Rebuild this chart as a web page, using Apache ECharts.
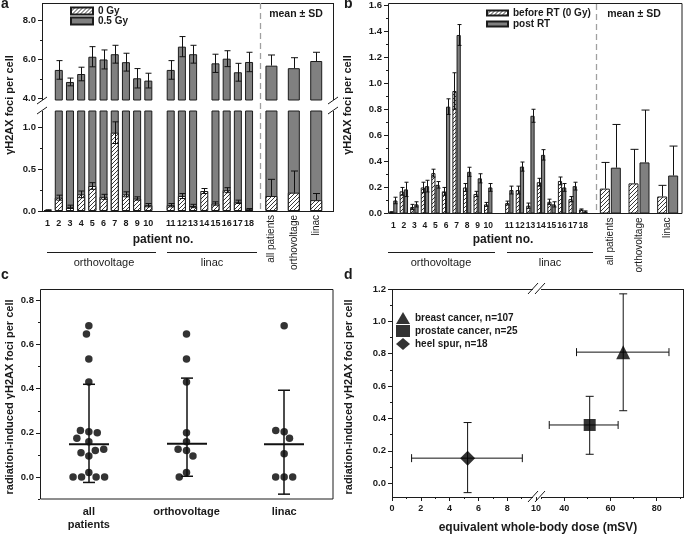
<!DOCTYPE html>
<html><head><meta charset="utf-8">
<script src="https://cdn.jsdelivr.net/npm/echarts@6/dist/echarts.min.js"></script>
<style>html,body{margin:0;padding:0;background:#fff}#c{width:685px;height:534px}</style>
</head><body><div id="c"></div>
<script>
// ================= DATA =================
const orthoPatients = ['1','2','3','4','5','6','7','8','9','10'];
const linacPatients = ['11','12','13','14','15','16','17','18'];
const groupNames = ['all patients','orthovoltage','linac'];

// panel a : foci per cell, 0 Gy and 0.5 Gy (in vitro), patients 1..18
const a0Gy     = [0.01,0.16,0.05,0.20,0.30,0.17,0.94,0.20,0.15,0.07, 0.07,0.18,0.06,0.24,0.09,0.25,0.11,0.02];
const a0GySd   = [0.005,0.03,0.02,0.04,0.04,0.03,0.13,0.03,0.02,0.02, 0.02,0.03,0.02,0.03,0.02,0.03,0.02,0.01];
const a05Gy    = [null,5.46,4.84,5.25,6.14,6.00,6.27,5.86,5.03,4.91, 5.46,6.66,6.27,null,5.80,6.04,5.34,5.87];
const a05GySd  = [null,0.48,0.20,0.35,0.52,0.49,0.46,0.46,0.50,0.38, 0.48,0.52,0.46,null,0.47,0.41,0.46,0.50];
const aMean0Gy    = [0.18,0.22,0.13];
const aMean0GySd  = [0.20,0.26,0.08];
const aMean05Gy   = [5.68,5.55,5.92];
const aMean05GySd = [0.55,0.54,0.45];

// panel b : before RT and post RT
const bPre     = [0.01,0.17,0.05,0.20,0.31,0.17,0.94,0.20,0.15,0.07, 0.08,0.18,0.06,0.24,0.09,0.25,0.11,0.03];
const bPreSd   = [0.004,0.03,0.02,0.04,0.03,0.03,0.14,0.03,0.02,0.015, 0.015,0.03,0.02,0.03,0.02,0.03,0.02,0.005];
const bPost    = [0.10,0.185,0.07,0.21,0.22,0.82,1.37,0.32,0.27,0.20, 0.18,0.36,0.75,0.45,0.07,0.20,0.21,0.015];
const bPostSd  = [0.025,0.055,0.02,0.045,0.025,0.06,0.08,0.035,0.035,0.03, 0.03,0.035,0.05,0.04,0.02,0.03,0.03,0.005];
const bMeanPre    = [0.19,0.23,0.13];
const bMeanPreSd  = [0.20,0.26,0.085];
const bMeanPost   = [0.35,0.39,0.29];
const bMeanPostSd = [0.33,0.40,0.225];

// panel c : radiation-induced foci per patient
const cAll   = [0.685,0.648,0.535,0.43,0.205,0.21,0.20,0.16,0.175,0.095,0.11,0.12,0.125,0.02,0,0,0,0];
const cOrtho = [0.648,0.535,0.43,0.20,0.16,0.12,0.125,0.095,0.02,0];
const cLinac = [0.685,0.205,0.21,0.175,0.105,0,0,0];
const cCenter = [0.148,0.150,0.148];
const cLow    = [-0.025,0.003,-0.078];
const cHigh   = [0.420,0.448,0.393];

// panel d
const dGroups   = ['breast cancer, n=107','prostate cancer, n=25','heel spur, n=18'];
const dDose     = [65.5, 51.0, 5.25];
const dDoseLow  = [45.3, 33.5, 1.36];
const dDoseHigh = [85.3, 63.3, 9.05];
const dFoci     = [0.81, 0.36, 0.155];
const dFociLow  = [0.448, 0.179, -0.058];
const dFociHigh = [1.17, 0.537, 0.375];

// tick labels
const aUpperTicks = [4,6,8], aUpperMinor = [5,7];
const aLowerTicks = [0,0.5,1.0], aLowerMinor = [0.25,0.75];
const bTicks = [0,0.2,0.4,0.6,0.8,1.0,1.2,1.4,1.6], bMinor = [0.1,0.3,0.5,0.7,0.9,1.1,1.3,1.5];
const cTicks = [0,0.2,0.4,0.6,0.8], cMinor = [-0.1,0.1,0.3,0.5,0.7];
const dYTicks = [0,0.2,0.4,0.6,0.8,1.0,1.2], dYMinor = [0.1,0.3,0.5,0.7,0.9,1.1];
const dXLeftTicks = [0,2,4,6,8,10], dXLeftMinor = [1,3,5,7,9];
const dXRightTicks = [40,60,80], dXRightMinor = [30,50,70,90];

// ================= STYLE =================
const EDGE = '#1c1c1c', GRAY = '#808080', TXT = '#1a1a1a', DASH = '#a0a0a0';
const FONT = '"Liberation Sans", Arial, Helvetica, sans-serif';

function makeHatch() {
  const s = 4;
  const c = document.createElement('canvas'); c.width = s; c.height = s;
  const g = c.getContext('2d');
  g.fillStyle = '#fff'; g.fillRect(0, 0, s, s);
  g.strokeStyle = '#222'; g.lineWidth = 0.9;
  g.beginPath();
  g.moveTo(0, s); g.lineTo(s, 0);
  g.moveTo(-1, 1); g.lineTo(1, -1);
  g.moveTo(s - 1, s + 1); g.lineTo(s + 1, s - 1);
  g.stroke();
  return c;
}
const HATCH = { image: makeHatch(), repeat: 'repeat' };
const grayStyle = { color: GRAY, borderColor: EDGE, borderWidth: 1 };
const hatchStyle = { color: HATCH, borderColor: EDGE, borderWidth: 1 };

// ================= SLOTS =================
const allPatients = orthoPatients.concat(linacPatients);
const aSlots = [...orthoPatients, 'gapA1', ...linacPatients, 'gapA2', groupNames[0], 'gapA3', groupNames[1], 'gapA4', groupNames[2], 'gapA5'];
const bSlots = [...orthoPatients, 'gapB1', ...linacPatients, 'gapB2'];

function toSlots(slots, names, values) {
  const out = new Array(slots.length).fill(null);
  names.forEach((n, i) => { out[slots.indexOf(n)] = values[i]; });
  return out;
}
function errData(slots, names, values, sds, upOnly) {
  const out = [];
  names.forEach((n, i) => {
    if (values[i] == null) return;
    const idx = slots.indexOf(n);
    out.push([idx, upOnly ? values[i] : values[i] - sds[i], values[i] + sds[i]]);
  });
  return out;
}
function vErr(offset, cap, upOnly) {
  return function (params, api) {
    const x = api.value(0), lo = api.value(1), hi = api.value(2);
    const ph = api.coord([x, hi]), pl = api.coord([x, lo]);
    const cx = Math.round(ph[0] + offset) + 0.5;
    const st = { stroke: '#111', lineWidth: 1 };
    const ch = [
      { type: 'line', shape: { x1: cx, y1: pl[1], x2: cx, y2: ph[1] }, style: st },
      { type: 'line', shape: { x1: cx - cap / 2, y1: ph[1], x2: cx + cap / 2, y2: ph[1] }, style: st }
    ];
    if (!upOnly) ch.push({ type: 'line', shape: { x1: cx - cap / 2, y1: pl[1], x2: cx + cap / 2, y2: pl[1] }, style: st });
    return { type: 'group', children: ch };
  };
}
function errSeries(xi, yi, data, offset, cap, upOnly) {
  return { type: 'custom', xAxisIndex: xi, yAxisIndex: yi, z: 4, silent: true, data,
    encode: { x: 0, y: [1, 2] }, renderItem: vErr(offset, cap, upOnly) };
}

// ================= AXES =================
function catAxis(gridIndex, data, label) {
  return { gridIndex, type: 'category', data, position: 'bottom', boundaryGap: true,
    axisLine: { show: false, onZero: false }, axisTick: { show: false }, splitLine: { show: false },
    axisLabel: label ? Object.assign({ show: true, interval: 0, color: TXT, fontFamily: FONT }, label) : { show: false } };
}
function valAxis(gridIndex, min, max, ticks, position, fmt) {
  return { gridIndex, type: 'value', min, max, position,
    axisLine: { show: false, onZero: false }, splitLine: { show: false },
    axisTick: ticks ? { show: true, length: 4, customValues: ticks, lineStyle: { color: EDGE } } : { show: false },
    axisLabel: ticks ? { show: true, customValues: ticks, formatter: fmt || (v => Number(v).toFixed(1)),
      color: TXT, fontFamily: FONT, fontWeight: 'bold', fontSize: 9.5, margin: 6 } : { show: false } };
}
function minorAxis(gridIndex, min, max, ticks, position) {
  return { gridIndex, type: 'value', min, max, position,
    axisLine: { show: false, onZero: false }, splitLine: { show: false }, axisLabel: { show: false },
    axisTick: { show: true, length: 2, customValues: ticks, lineStyle: { color: EDGE } } };
}
const patientFmt = v => allPatients.includes(v) ? v : '';
const groupFmt = v => groupNames.includes(v) ? v : '';

const grid = [
  { left: 42, top: 3, width: 291, height: 97 },        // 0 a upper
  { left: 42, top: 111, width: 291, height: 100 },     // 1 a lower
  { left: 388, top: 4, width: 211, height: 209.5 },    // 2 b patients
  { left: 596, top: 4, width: 86, height: 209.5 },     // 3 b summary
  { left: 40, top: 289, width: 293, height: 210 },     // 4 c
  { left: 392, top: 289, width: 144, height: 208 },    // 5 d left
  { left: 540, top: 289, width: 143.3, height: 208 }   // 6 d right
];

const xAxis = [
  catAxis(0, aSlots, null),
  catAxis(0, aSlots, null),
  catAxis(1, aSlots, { formatter: patientFmt, fontSize: 9, fontWeight: 'bold', margin: 8 }),
  catAxis(1, aSlots, { formatter: groupFmt, fontSize: 10, rotate: 90, margin: 4 }),
  catAxis(2, bSlots, { formatter: patientFmt, fontSize: 8.5, fontWeight: 'bold', margin: 8 }),
  catAxis(3, groupNames, { fontSize: 10, rotate: 90, margin: 4 }),
  Object.assign(catAxis(4, groupNames, { formatter: v => v === 'all patients' ? 'all\npatients' : v,
    fontSize: 11, fontWeight: 'bold', margin: 6, lineHeight: 13 }), { jitter: 60, jitterOverlap: false, jitterMargin: 1 }),
  Object.assign(valAxis(5, 0, 10, dXLeftTicks, 'bottom', v => String(v)), {}),
  Object.assign(valAxis(6, 29.5, 91.5, dXRightTicks, 'bottom', v => String(v)), {}),
  minorAxis(5, 0, 10, dXLeftMinor, 'bottom'),
  minorAxis(6, 29.5, 91.5, dXRightMinor, 'bottom')
];
xAxis[7].axisLabel.fontSize = 9; xAxis[8].axisLabel.fontSize = 9;
xAxis[7].axisLabel.margin = 7; xAxis[8].axisLabel.margin = 7;

const yAxis = [
  valAxis(0, 3.91, 8.91, aUpperTicks, 'left'),
  valAxis(1, 0, 1.2, aLowerTicks, 'left'),
  valAxis(2, 0, 1.6, bTicks, 'left'),
  Object.assign(valAxis(3, 0, 1.6, null, 'left'), { show: false }),
  valAxis(4, -0.1, 0.852, cTicks, 'left'),
  valAxis(5, -0.085, 1.2, dYTicks, 'left'),
  Object.assign(valAxis(6, -0.085, 1.2, null, 'left'), { show: false }),
  minorAxis(0, 3.91, 8.91, aUpperMinor, 'left'),
  minorAxis(1, 0, 1.2, aLowerMinor, 'left'),
  minorAxis(2, 0, 1.6, bMinor, 'left'),
  minorAxis(4, -0.1, 0.852, cMinor, 'left'),
  minorAxis(5, -0.085, 1.2, dYMinor, 'left')
];

// ================= SERIES =================
const series = [];
// --- panel a, upper segment
series.push({ type: 'bar', name: '0.5 Gy', xAxisIndex: 0, yAxisIndex: 0, data: toSlots(aSlots, allPatients, a05Gy),
  barWidth: 8, barGap: '-100%', itemStyle: grayStyle });
series.push({ type: 'bar', name: '0.5 Gy', xAxisIndex: 1, yAxisIndex: 0, data: toSlots(aSlots, groupNames, aMean05Gy),
  barWidth: 12, barGap: '-100%', itemStyle: grayStyle });
series.push(errSeries(0, 0, errData(aSlots, allPatients, a05Gy, a05GySd, false), 0, 6, false));
series.push(errSeries(1, 0, errData(aSlots, groupNames, aMean05Gy, aMean05GySd, true), 0, 7, true));
// --- panel a, lower segment
series.push({ type: 'bar', name: '0.5 Gy', xAxisIndex: 2, yAxisIndex: 1, data: toSlots(aSlots, allPatients, a05Gy),
  barWidth: 8, barGap: '-100%', itemStyle: grayStyle });
series.push({ type: 'bar', name: '0 Gy', xAxisIndex: 2, yAxisIndex: 1, data: toSlots(aSlots, allPatients, a0Gy),
  barWidth: 8, barGap: '-100%', itemStyle: hatchStyle });
series.push({ type: 'bar', name: '0.5 Gy', xAxisIndex: 3, yAxisIndex: 1, data: toSlots(aSlots, groupNames, aMean05Gy),
  barWidth: 12, barGap: '-100%', itemStyle: grayStyle });
series.push({ type: 'bar', name: '0 Gy', xAxisIndex: 3, yAxisIndex: 1, data: toSlots(aSlots, groupNames, aMean0Gy),
  barWidth: 12, barGap: '-100%', itemStyle: hatchStyle });
series.push(errSeries(2, 1, errData(aSlots, allPatients, a0Gy, a0GySd, false), 0, 6, false));
series.push(errSeries(3, 1, errData(aSlots, groupNames, aMean0Gy, aMean0GySd, true), 0, 7, true));
// --- panel b, patients
series.push({ type: 'bar', name: 'before RT (0 Gy)', xAxisIndex: 4, yAxisIndex: 2, data: toSlots(bSlots, allPatients, bPre),
  barWidth: 4.2, barGap: '0%', itemStyle: hatchStyle });
series.push({ type: 'bar', name: 'post RT', xAxisIndex: 4, yAxisIndex: 2, data: toSlots(bSlots, allPatients, bPost),
  barWidth: 4.2, barGap: '0%', itemStyle: grayStyle });
series.push(errSeries(4, 2, errData(bSlots, allPatients, bPre, bPreSd, false), -2.1, 4, false));
series.push(errSeries(4, 2, errData(bSlots, allPatients, bPost, bPostSd, false), 2.1, 4, false));
// --- panel b, summary
series.push({ type: 'bar', name: 'before RT (0 Gy)', xAxisIndex: 5, yAxisIndex: 3, data: bMeanPre,
  barWidth: 10, barGap: '10%', itemStyle: hatchStyle });
series.push({ type: 'bar', name: 'post RT', xAxisIndex: 5, yAxisIndex: 3, data: bMeanPost,
  barWidth: 10, barGap: '10%', itemStyle: grayStyle });
series.push(errSeries(5, 3, errData(groupNames, groupNames, bMeanPre, bMeanPreSd, true), -5.5, 8, true));
series.push(errSeries(5, 3, errData(groupNames, groupNames, bMeanPost, bMeanPostSd, true), 5.5, 8, true));
// --- panel c
const cPoints = [];
[cAll, cOrtho, cLinac].forEach((arr, gi) => arr.forEach(v => cPoints.push([gi, v])));
series.push({ type: 'scatter', xAxisIndex: 6, yAxisIndex: 4, data: cPoints, symbolSize: 7.5,
  itemStyle: { color: '#000' }, z: 3, silent: true });
series.push({ type: 'custom', xAxisIndex: 6, yAxisIndex: 4, z: 4, silent: true,
  data: groupNames.map((g, i) => [i, cCenter[i], cLow[i], cHigh[i]]),
  encode: { x: 0, y: [1, 2, 3] },
  renderItem: function (params, api) {
    const x = api.value(0);
    const pm = api.coord([x, api.value(1)]), pl = api.coord([x, api.value(2)]), ph = api.coord([x, api.value(3)]);
    const s = { stroke: '#111', lineWidth: 1.5 }, sm = { stroke: '#111', lineWidth: 2 };
    const cx = Math.round(pm[0]);
    return { type: 'group', children: [
      { type: 'line', shape: { x1: cx - 20, y1: pm[1], x2: cx + 20, y2: pm[1] }, style: sm },
      { type: 'line', shape: { x1: cx, y1: pl[1], x2: cx, y2: ph[1] }, style: s },
      { type: 'line', shape: { x1: cx - 6, y1: pl[1], x2: cx + 6, y2: pl[1] }, style: s },
      { type: 'line', shape: { x1: cx - 6, y1: ph[1], x2: cx + 6, y2: ph[1] }, style: s }
    ] };
  } });
// --- panel d
const dSymbols = ['triangle', 'rect', 'diamond'];
const dSizes = [14, 12, 15];
const dSide = [1, 1, 0]; // 0 = left part of broken axis, 1 = right part
dGroups.forEach((g, i) => {
  series.push({ type: 'scatter', name: g, xAxisIndex: 7 + dSide[i], yAxisIndex: 5 + dSide[i],
    data: [[dDose[i], dFoci[i]]], symbol: dSymbols[i], symbolSize: dSizes[i],
    itemStyle: { color: '#000' }, z: 5, silent: true });
  series.push({ type: 'custom', xAxisIndex: 7 + dSide[i], yAxisIndex: 5 + dSide[i], z: 3, silent: true,
    data: [[dDose[i], dFoci[i], dDoseLow[i], dDoseHigh[i], dFociLow[i], dFociHigh[i]]],
    encode: { x: [0, 2, 3], y: [1, 4, 5] },
    renderItem: function (params, api) {
      const x = api.value(0), y = api.value(1);
      const a = api.coord([api.value(2), y]), b = api.coord([api.value(3), y]);
      const c = api.coord([x, api.value(4)]), d = api.coord([x, api.value(5)]);
      const s = { stroke: '#111', lineWidth: 1 };
      return { type: 'group', children: [
        { type: 'line', shape: { x1: a[0], y1: a[1], x2: b[0], y2: b[1] }, style: s },
        { type: 'line', shape: { x1: a[0], y1: a[1] - 4, x2: a[0], y2: a[1] + 4 }, style: s },
        { type: 'line', shape: { x1: b[0], y1: b[1] - 4, x2: b[0], y2: b[1] + 4 }, style: s },
        { type: 'line', shape: { x1: c[0], y1: c[1], x2: d[0], y2: d[1] }, style: s },
        { type: 'line', shape: { x1: c[0] - 4, y1: c[1], x2: c[0] + 4, y2: c[1] }, style: s },
        { type: 'line', shape: { x1: d[0] - 4, y1: d[1], x2: d[0] + 4, y2: d[1] }, style: s }
      ] };
    } });
});

// ================= DECORATION =================
const LS = { stroke: EDGE, lineWidth: 1 };
function L(x1, y1, x2, y2, style) {
  return { type: 'line', silent: true, shape: { x1, y1, x2, y2 }, style: style || LS };
}
function T(x, y, text, font, align, rot, vAlign) {
  return { type: 'text', silent: true, x, y, rotation: rot || 0,
    style: { text, font, fill: TXT, textAlign: align || 'center', textVerticalAlign: vAlign || 'middle' } };
}
function R(x, y, w, h) {
  return { type: 'rect', silent: true, shape: { x, y, width: w, height: h }, style: { fill: 'none', stroke: EDGE, lineWidth: 1 } };
}
const dashStyle = { stroke: DASH, lineWidth: 1.3, lineDash: [6, 4] };
const B11 = 'bold 11px ' + FONT, B12 = 'bold 12px ' + FONT, N11 = '11px ' + FONT, B10 = 'bold 10.5px ' + FONT, B14 = 'bold 14px ' + FONT;
const graphic = [
  // panel a frame (broken y axis)
  L(42, 3.5, 333, 3.5), L(42, 211.5, 333, 211.5),
  L(42.5, 3, 42.5, 100), L(42.5, 111, 42.5, 212),
  L(333.5, 3, 333.5, 100), L(333.5, 111, 333.5, 212),
  L(37, 104, 47, 97), L(37, 114, 47, 107),
  L(328, 104, 338, 97), L(328, 114, 338, 107),
  L(260.5, 3, 260.5, 211, dashStyle),
  // panel b frame
  R(388.5, 3.5, 293.5, 210), L(596.5, 4, 596.5, 213, dashStyle),
  // panel c frame
  R(40.5, 289.5, 292.5, 209.5),
  // panel d frame (broken x axis)
  L(392.5, 289, 392.5, 497.5), L(683.5, 289, 683.5, 497.5),
  L(392, 289.5, 533, 289.5), L(541, 289.5, 684, 289.5),
  L(392, 497.5, 533, 497.5), L(541, 497.5, 684, 497.5),
  L(528, 294, 538, 283), L(535, 294, 545, 283),
  L(528, 502, 538, 491), L(535, 502, 545, 491),
  // panel letters
  T(1, 4, 'a', B14, 'left'), T(344, 4, 'b', B14, 'left'), T(1, 275, 'c', B14, 'left'), T(344, 275, 'd', B14, 'left'),
  // y titles
  T(10, 105, 'γH2AX foci per cell', B11, 'center', Math.PI / 2),
  T(348, 105, 'γH2AX foci per cell', B11, 'center', Math.PI / 2),
  T(10, 397, 'radiation-induced γH2AX foci per cell', B11, 'center', Math.PI / 2),
  T(349, 397, 'radiation-induced γH2AX foci per cell', B11, 'center', Math.PI / 2),
  // x titles
  T(163, 240, 'patient no.', B12), T(503, 240, 'patient no.', B12),
  T(538, 528, 'equivalent whole-body dose (mSV)', B12),
  // group lines
  L(47, 252.5, 156, 252.5), L(167, 252.5, 257, 252.5),
  T(104, 263, 'orthovoltage', N11), T(212, 263, 'linac', N11),
  L(388, 252.5, 495, 252.5), L(507, 252.5, 593, 252.5),
  T(441, 263, 'orthovoltage', N11), T(550, 263, 'linac', N11),
  // mean ± SD
  T(296, 14, 'mean ± SD', B10), T(634, 14, 'mean ± SD', B10)
];

const legendText = { color: TXT, fontFamily: FONT, fontWeight: 'bold', fontSize: 10, lineHeight: 10 };
const legend = [
  { data: ['0 Gy', '0.5 Gy'], left: 70, top: 6, orient: 'vertical', icon: 'rect', itemWidth: 22, itemHeight: 7,
    itemGap: 0, padding: 0, textStyle: legendText, selectedMode: false },
  { data: ['before RT (0 Gy)', 'post RT'], left: 486, top: 8, orient: 'vertical', icon: 'rect', itemWidth: 21, itemHeight: 5,
    itemGap: 1, padding: 0, textStyle: legendText, selectedMode: false },
  { data: dGroups, left: 396, top: 312, orient: 'vertical', itemWidth: 14, itemHeight: 12,
    itemGap: 1, padding: 0, textStyle: Object.assign({}, legendText, { lineHeight: 12 }), selectedMode: false }
];

const chart = echarts.init(document.getElementById('c'), null, { renderer: 'canvas' });
chart.setOption({
  animation: false,
  backgroundColor: '#fff',
  textStyle: { fontFamily: FONT },
  grid, xAxis, yAxis, series, legend, graphic
});
</script></body></html>
